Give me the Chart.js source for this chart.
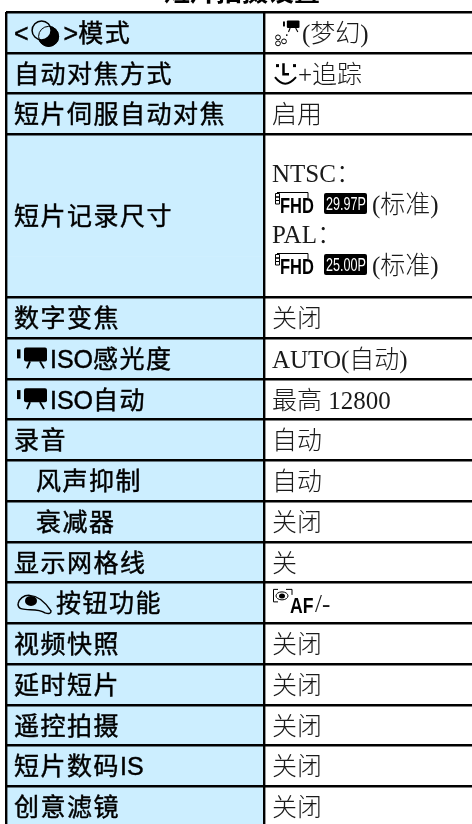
<!DOCTYPE html>
<html lang="zh">
<head>
    <meta charset="UTF-8">
    <title>短片拍摄设置</title>
    <script src="https://cdn.jsdelivr.net/npm/chart.js"></script>
    <style>
        html, body { margin: 0; padding: 0; background: #fff; overflow: hidden; }
        canvas { display: block; }
    </style>
</head>
<body>
    <canvas id="tableChart" width="480" height="840"></canvas>
    <script>
        const tableTitle = '短片拍摄设置';
        const rowLabels = [
            '<{creative}>模式', '自动对焦方式', '短片伺服自动对焦', '短片记录尺寸', '数字变焦',
            '{movie}ISO感光度', '{movie}ISO自动', '录音', '{indent}风声抑制', '{indent}衰减器',
            '显示网格线', '{eye}按钮功能', '视频快照', '延时短片', '遥控拍摄', '短片数码IS', '创意滤镜'
        ];
        const rowValues = [
            ['{dream}(梦幻)'], ['{face}+追踪'], ['启用'],
            ['NTSC：', '{fhd}{r2997}(标准)', 'PAL：', '{fhd}{r2500}(标准)'],
            ['关闭'], ['AUTO(自动)'], ['最高 12800'], ['自动'], ['自动'], ['关闭'], ['关'],
            ['{afeye}/-'], ['关闭'], ['关闭'], ['关闭'], ['关闭'], ['关闭']
        ];
        // how many row units each table row takes up
        const rowSpans = [1, 1, 1, 4, 1, 1, 1, 1, 1, 1, 1, 1, 1, 1, 1, 1, 1];
        const columnValues = [258, 216];

        const slotLabels = rowLabels.flatMap((label, i) => Array(rowSpans[i]).fill(label));
        const ends = [];
        rowSpans.reduce((sum, span) => { ends.push(sum + span); return sum + span; }, 0);

        const labelFont = '25px "Liberation Sans", "Noto Sans CJK SC"';
        const valueFont = '300 25px "Liberation Serif", "Noto Sans CJK SC"';
        const lightBlue = '#cceeff';

        function squeezedText(ctx, text, x, y, font, scaleX, color) {
            ctx.save();
            ctx.translate(x, y);
            ctx.scale(scaleX, 1);
            ctx.font = font;
            ctx.letterSpacing = '0px';
            ctx.fillStyle = color;
            ctx.fillText(text, 0, 0);
            ctx.restore();
        }

        function movieShape(ctx, x, y, s) {
            ctx.fillStyle = '#000';
            ctx.strokeStyle = '#000';
            ctx.fillRect(x, y + 2 * s, 3.5 * s, 9 * s);
            ctx.beginPath();
            ctx.roundRect(x + 7 * s, y, 23 * s, 14 * s, 2 * s);
            ctx.fill();
            ctx.lineWidth = 2 * s;
            ctx.beginPath();
            ctx.moveTo(x + 13 * s, y + 14 * s);
            ctx.lineTo(x + 10 * s, y + 21 * s);
            ctx.moveTo(x + 23 * s, y + 14 * s);
            ctx.lineTo(x + 27 * s, y + 21 * s);
            ctx.stroke();
        }

        function badge(ctx, x, cy, text) {
            ctx.fillStyle = '#000';
            ctx.beginPath();
            ctx.roundRect(x, cy - 10, 43, 21, 2);
            ctx.fill();
            squeezedText(ctx, text, x + 2, cy + 7, '18px "Liberation Sans"', 0.7, '#fff');
        }

        // inline glyphs of the camera manual: each has a width and a draw function
        const inlineIcons = {
            indent: { width: 22, draw() {} },
            creative: {
                width: 35,
                draw(ctx, x, cy) {
                    ctx.fillStyle = '#000';
                    ctx.beginPath();
                    ctx.arc(x + 20, cy + 4, 10.5, 0, Math.PI * 2);
                    ctx.fill();
                    ctx.fillStyle = lightBlue;
                    ctx.strokeStyle = '#000';
                    ctx.lineWidth = 1.5;
                    ctx.beginPath();
                    ctx.arc(x + 13, cy - 2, 9.5, 0, Math.PI * 2);
                    ctx.fill();
                    ctx.stroke();
                    ctx.lineWidth = 1;
                    ctx.beginPath();
                    ctx.arc(x + 20, cy + 4, 10, 0, Math.PI * 2);
                    ctx.stroke();
                }
            },
            movie: {
                width: 36,
                draw(ctx, x, cy) { movieShape(ctx, x + 3, cy - 11, 1); }
            },
            eye: {
                width: 42,
                draw(ctx, x, cy) {
                    ctx.strokeStyle = '#000';
                    ctx.lineWidth = 1.5;
                    ctx.beginPath();
                    ctx.moveTo(x + 4, cy + 1);
                    ctx.bezierCurveTo(x + 6, cy - 9, x + 22, cy - 14, x + 37, cy + 8);
                    ctx.quadraticCurveTo(x + 37, cy + 12, x + 31, cy + 10);
                    ctx.bezierCurveTo(x + 24, cy + 5, x + 14, cy + 8, x + 8, cy + 6);
                    ctx.quadraticCurveTo(x + 4, cy + 5, x + 4, cy + 1);
                    ctx.stroke();
                    ctx.fillStyle = '#000';
                    ctx.beginPath();
                    ctx.ellipse(x + 17, cy - 2, 6, 5, 0, 0, Math.PI * 2);
                    ctx.fill();
                }
            },
            dream: {
                width: 30,
                draw(ctx, x, cy) {
                    movieShape(ctx, x + 11, cy - 12, 0.55);
                    ctx.lineWidth = 1;
                    [[6, 5], [12, 9], [6, 11]].forEach(p => {
                        ctx.beginPath();
                        ctx.arc(x + p[0], cy + p[1], 2.4, 0, Math.PI * 2);
                        ctx.stroke();
                    });
                    ctx.fillRect(x + 14, cy + 2, 1.5, 1.5);
                }
            },
            face: {
                width: 26,
                draw(ctx, x, cy) {
                    ctx.fillStyle = '#000';
                    ctx.strokeStyle = '#000';
                    ctx.fillRect(x + 4, cy - 9, 3, 3);
                    ctx.fillRect(x + 21, cy - 9, 3, 3);
                    ctx.lineWidth = 2.5;
                    ctx.beginPath();
                    ctx.moveTo(x + 11.5, cy - 10);
                    ctx.lineTo(x + 11.5, cy + 1);
                    ctx.lineTo(x + 17, cy + 1);
                    ctx.stroke();
                    ctx.lineWidth = 2;
                    ctx.beginPath();
                    ctx.moveTo(x + 3, cy + 4);
                    ctx.quadraticCurveTo(x + 13, cy + 17, x + 24, cy + 4);
                    ctx.stroke();
                }
            },
            fhd: {
                width: 52,
                draw(ctx, x, cy) {
                    ctx.strokeStyle = '#000';
                    ctx.lineWidth = 1;
                    ctx.beginPath();
                    ctx.moveTo(x + 5, cy - 10.5);
                    ctx.lineTo(x + 36, cy - 10.5);
                    ctx.lineTo(x + 36, cy - 5);
                    ctx.rect(x + 3.5, cy - 9.5, 4, 3.5);
                    ctx.rect(x + 3.5, cy - 6, 4, 3.5);
                    ctx.rect(x + 3.5, cy - 2.5, 4, 3.5);
                    ctx.stroke();
                    squeezedText(ctx, 'FHD', x + 8, cy + 10, 'bold 22px "Liberation Sans"', 0.75, '#000');
                }
            },
            r2997: {
                width: 48,
                draw(ctx, x, cy) { badge(ctx, x, cy, '29.97P'); }
            },
            r2500: {
                width: 48,
                draw(ctx, x, cy) { badge(ctx, x, cy, '25.00P'); }
            },
            afeye: {
                width: 43,
                draw(ctx, x, cy) {
                    ctx.strokeStyle = '#000';
                    ctx.lineWidth = 1;
                    ctx.beginPath();
                    ctx.moveTo(x + 6, cy - 13.5);
                    ctx.lineTo(x + 1.5, cy - 13.5);
                    ctx.lineTo(x + 1.5, cy - 1);
                    ctx.lineTo(x + 6, cy - 1);
                    ctx.moveTo(x + 14, cy - 13.5);
                    ctx.lineTo(x + 20, cy - 13.5);
                    ctx.lineTo(x + 20, cy - 8);
                    ctx.stroke();
                    ctx.fillStyle = '#000';
                    ctx.beginPath();
                    ctx.ellipse(x + 10, cy - 7, 3, 2.5, 0, 0, Math.PI * 2);
                    ctx.fill();
                    ctx.beginPath();
                    ctx.ellipse(x + 10, cy - 7, 6, 4, 0, 0, Math.PI * 2);
                    ctx.stroke();
                    squeezedText(ctx, 'AF', x + 18, cy + 10, 'bold 22px "Liberation Sans"', 0.8, '#000');
                }
            }
        };

        // writes one line, swapping {name} for its icon; latin runs are not letter spaced
        function drawRich(ctx, line, x, cy, font, spacing, color, baselineShift, heavy) {
            line.split(/(\{\w+\}|[A-Z<>]+)/).forEach(part => {
                if (!part) return;
                const m = part.match(/^\{(\w+)\}$/);
                if (m) {
                    const icon = inlineIcons[m[1]];
                    icon.draw(ctx, x, cy);
                    x += icon.width;
                } else {
                    ctx.font = font;
                    ctx.letterSpacing = /^[A-Z<>]+$/.test(part) ? '0px' : spacing;
                    ctx.fillStyle = color;
                    ctx.textBaseline = 'alphabetic';
                    ctx.textAlign = 'left';
                    ctx.fillText(part, x, cy + baselineShift);
                    if (heavy) {
                        ctx.strokeStyle = color;
                        ctx.lineWidth = heavy;
                        ctx.strokeText(part, x, cy + baselineShift);
                    }
                    x += ctx.measureText(part).width;
                }
            });
        }

        const cellTextPlugin = {
            id: 'cellText',
            afterDraw(chart) {
                const ctx = chart.ctx;
                const xScale = chart.scales.x;
                const yScale = chart.scales.y;
                ctx.save();
                ctx.font = 'bold 26px "Noto Sans CJK SC"';
                ctx.fillStyle = '#000';
                ctx.textAlign = 'center';
                ctx.fillText(tableTitle, 242, 1);

                const lineStep = 30.5;
                rowLabels.forEach((label, i) => {
                    const first = ends[i] - rowSpans[i];
                    const last = ends[i] - 1;
                    const cy = (yScale.getPixelForValue(first) + yScale.getPixelForValue(last)) / 2;
                    drawRich(ctx, label, xScale.getPixelForValue(0) + 8, cy, labelFont, '1.5px', '#000', 9.5, 0.45);
                    const lines = rowValues[i];
                    const startY = lines.length > 1 ? cy + 2.5 - (lines.length - 1) * lineStep / 2 : cy;
                    lines.forEach((line, n) => {
                        drawRich(ctx, line, xScale.getPixelForValue(columnValues[0]) + 8, startY + n * lineStep,
                            valueFont, '0px', '#1a1a1a', 9.5, 0);
                    });
                });
                ctx.restore();
            }
        };

        new Chart(document.getElementById('tableChart'), {
            type: 'bar',
            data: {
                labels: slotLabels,
                datasets: [
                    { label: '项目', data: slotLabels.map(() => columnValues[0]), backgroundColor: lightBlue },
                    { label: '设置', data: slotLabels.map(() => columnValues[1]), backgroundColor: '#ffffff' }
                ]
            },
            options: {
                indexAxis: 'y',
                responsive: false,
                animation: false,
                barPercentage: 1,
                categoryPercentage: 1,
                layout: { padding: { left: 6, top: 12, right: 0, bottom: 13 } },
                plugins: { legend: { display: false }, title: { display: false }, tooltip: { enabled: false } },
                scales: {
                    x: {
                        stacked: true,
                        min: 0,
                        max: columnValues[0] + columnValues[1],
                        afterBuildTicks: axis => { axis.ticks = [{ value: 0 }, { value: columnValues[0] }]; },
                        ticks: { display: false },
                        border: { display: false },
                        grid: { z: 1, color: '#000', lineWidth: 2.4, drawTicks: false }
                    },
                    y: {
                        stacked: true,
                        ticks: { display: false, autoSkip: false },
                        border: { display: false },
                        grid: {
                            z: 1,
                            offset: true,
                            color: '#000',
                            drawTicks: false,
                            // only draw a line where a table row really ends
                            lineWidth: ctx => (ctx.index === 0 || ends.includes(ctx.index)) ? 2.4 : 0
                        }
                    }
                }
            },
            plugins: [cellTextPlugin]
        });
    </script>
</body>
</html>
